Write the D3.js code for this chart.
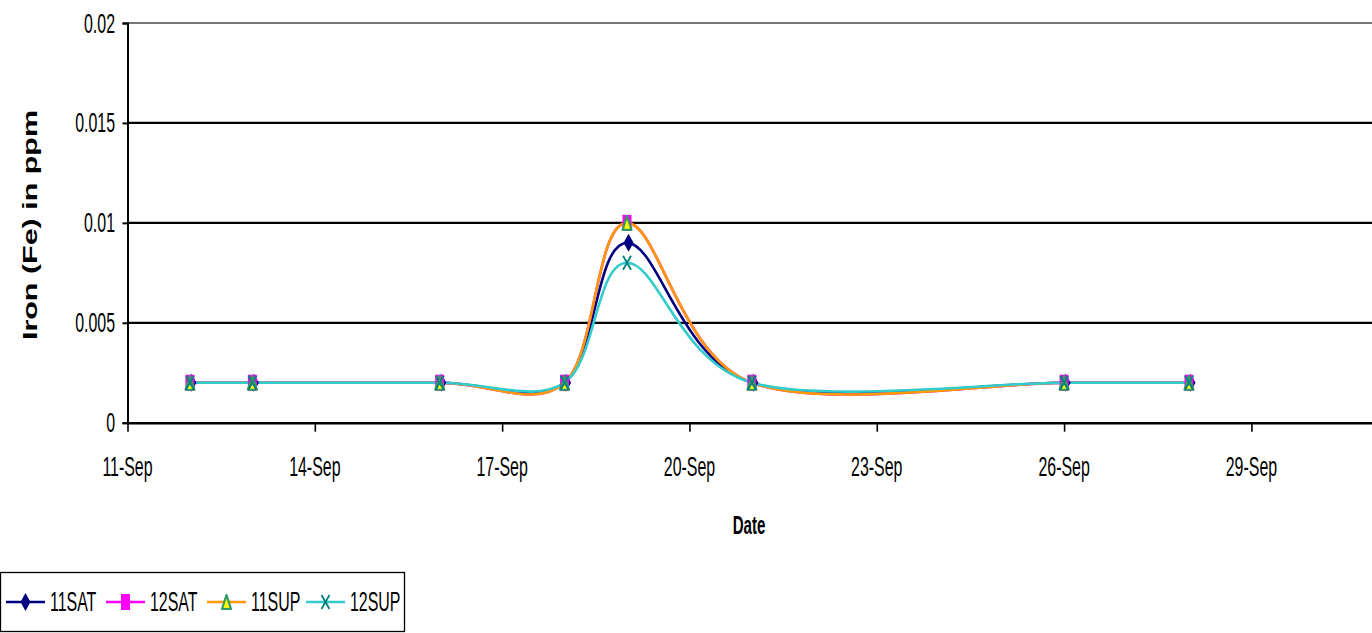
<!DOCTYPE html>
<html>
<head>
<meta charset="utf-8">
<script src="https://cdn.jsdelivr.net/npm/d3@7"></script>
<style>
  html, body { margin: 0; padding: 0; background: #fff; }
  svg { display: block; }
  text { font-family: "Liberation Sans", Arial, sans-serif; fill: #000; }
</style>
</head>
<body>
<svg id="chart" width="1372" height="633"></svg>
<script>
// Sampling dates and iron readings (ppm) per sampling point
const sampleDates = ["2008-09-12", "2008-09-13", "2008-09-16", "2008-09-18", "2008-09-19", "2008-09-21", "2008-09-26", "2008-09-28"];
const seriesNames = ["11SAT", "12SAT", "11SUP", "12SUP"];
const fe11SAT = [0.002, 0.002, 0.002, 0.002, 0.009, 0.002, 0.002, 0.002];
const fe12SAT = [0.002, 0.002, 0.002, 0.002, 0.010, 0.002, 0.002, 0.002];
const fe11SUP = [0.002, 0.002, 0.002, 0.002, 0.010, 0.002, 0.002, 0.002];
const fe12SUP = [0.002, 0.002, 0.002, 0.002, 0.008, 0.002, 0.002, 0.002];
const yTickValues = [0, 0.005, 0.01, 0.015, 0.02];
const yTickLabels = ["0", "0.005", "0.01", "0.015", "0.02"];
const xTickDates = ["2008-09-11", "2008-09-14", "2008-09-17", "2008-09-20", "2008-09-23", "2008-09-26", "2008-09-29"];
const xTickLabels = ["11-Sep", "14-Sep", "17-Sep", "20-Sep", "23-Sep", "26-Sep", "29-Sep"];

const parse = d3.timeParse("%Y-%m-%d");
const svg = d3.select("#chart");

const plotLeft = 127.5, plotRight = 1376.3, plotTop = 23, plotBottom = 422.7;
const x = d3.scaleTime().domain([parse("2008-09-11"), parse("2008-10-01")]).range([plotLeft, plotRight]);
const y = d3.scaleLinear().domain([0, 0.02]).range([plotBottom, plotTop]);

const FONT = 27, SQ = 0.59;

const styles = [
  { name: seriesNames[0], values: fe11SAT, line: "#000080", marker: "diamond" },
  { name: seriesNames[1], values: fe12SAT, line: "#FF00FF", marker: "square" },
  { name: seriesNames[2], values: fe11SUP, line: "#FF9900", marker: "triangle" },
  { name: seriesNames[3], values: fe12SUP, line: "#33CCCC", marker: "cross" }
];

// Horizontal gridlines
svg.append("g").selectAll("line")
  .data(yTickValues.filter(v => v > 0))
  .join("line")
  .attr("x1", plotLeft).attr("x2", 1372)
  .attr("y1", d => y(d)).attr("y2", d => y(d))
  .attr("stroke", d => d === 0.02 ? "#777" : "#000")
  .attr("stroke-width", 2.2);

// Y axis
const yAxis = svg.append("g").attr("transform", `translate(${plotLeft},0)`)
  .call(d3.axisLeft(y).tickValues(yTickValues).tickSize(5).tickFormat(""));
yAxis.select(".domain").attr("stroke", "#000").attr("stroke-width", 2);
yAxis.selectAll(".tick line").attr("stroke", "#000").attr("stroke-width", 2);
svg.append("g").selectAll("text")
  .data(yTickValues)
  .join("text")
  .attr("text-anchor", "end")
  .attr("font-size", FONT)
  .attr("transform", d => `translate(115,${y(d) + 9.5}) scale(${SQ},1)`)
  .text((d, i) => yTickLabels[i]);

// X axis
const xAxis = svg.append("g").attr("transform", `translate(0,${plotBottom})`)
  .call(d3.axisBottom(x).tickValues(xTickDates.map(parse)).tickSize(9).tickSizeOuter(0).tickFormat(""));
xAxis.select(".domain").attr("stroke", "#000").attr("stroke-width", 2.6);
xAxis.selectAll(".tick line").attr("stroke", "#000").attr("stroke-width", 1.6);
svg.append("g").selectAll("text")
  .data(xTickDates)
  .join("text")
  .attr("text-anchor", "middle")
  .attr("font-size", FONT)
  .attr("transform", d => `translate(${x(parse(d))},476) scale(${SQ},1)`)
  .text((d, i) => xTickLabels[i]);

// Axis titles
svg.append("text")
  .attr("text-anchor", "middle")
  .attr("font-size", 26)
  .attr("font-weight", "bold")
  .attr("transform", "translate(749,534) scale(0.58,1)")
  .text("Date");
svg.append("text")
  .attr("text-anchor", "middle")
  .attr("font-size", 24)
  .attr("font-weight", "bold")
  .attr("transform", "translate(37,225) rotate(-90) scale(1.27,0.85)")
  .text("Iron (Fe) in ppm");

// Marker shapes
function drawMarker(g, kind, cx, cy) {
  if (kind === "diamond") {
    g.append("path")
      .attr("d", `M${cx},${cy - 9}L${cx + 5},${cy}L${cx},${cy + 9}L${cx - 5},${cy}Z`)
      .attr("fill", "#000080");
  } else if (kind === "square") {
    g.append("rect")
      .attr("x", cx - 4.5).attr("y", cy - 8).attr("width", 9).attr("height", 16)
      .attr("fill", "#FF00FF");
  } else if (kind === "triangle") {
    g.append("path")
      .attr("d", `M${cx},${cy - 7}L${cx + 4.5},${cy + 7}L${cx - 4.5},${cy + 7}Z`)
      .attr("fill", "#FFFF00").attr("stroke", "#339966").attr("stroke-width", 2.2)
      .attr("stroke-linejoin", "round");
  } else {
    g.append("path")
      .attr("d", `M${cx - 4},${cy - 7}L${cx + 4},${cy + 7}M${cx + 4},${cy - 7}L${cx - 4},${cy + 7}`)
      .attr("stroke", "#008080").attr("stroke-width", 1.8).attr("fill", "none");
  }
}

// Smoothed series lines
const line = d3.line()
  .x(d => x(d.date)).y(d => y(d.value))
  .curve(d3.curveCardinal.tension(0));
const dates = sampleDates.map(parse);
const lines = svg.append("g");
styles.forEach(s => {
  const pts = dates.map((dt, i) => ({ date: dt, value: s.values[i] }));
  lines.append("path")
    .attr("d", line(pts))
    .attr("fill", "none")
    .attr("stroke", s.line)
    .attr("stroke-width", 2.6);
});
const markers = svg.append("g");
styles.forEach(s => {
  dates.forEach((dt, i) => {
    const off = s.marker === "diamond" ? 1.5 : 0;
    drawMarker(markers, s.marker, x(dt) + off, y(s.values[i]));
  });
});

// Legend
const lg = svg.append("g");
lg.append("rect")
  .attr("x", 0.5).attr("y", 572.5).attr("width", 404).attr("height", 59)
  .attr("fill", "#fff").attr("stroke", "#000").attr("stroke-width", 1.3);
const legendX = [6, 106, 207, 306];
styles.forEach((s, i) => {
  const lx = legendX[i];
  lg.append("line")
    .attr("x1", lx).attr("x2", lx + 39).attr("y1", 602).attr("y2", 602)
    .attr("stroke", s.line).attr("stroke-width", 2.6);
  drawMarker(lg, s.marker, lx + 19.5, 602);
  lg.append("text")
    .attr("font-size", FONT)
    .attr("transform", `translate(${lx + 44},611) scale(${SQ},1)`)
    .text(s.name);
});
</script>
</body>
</html>
